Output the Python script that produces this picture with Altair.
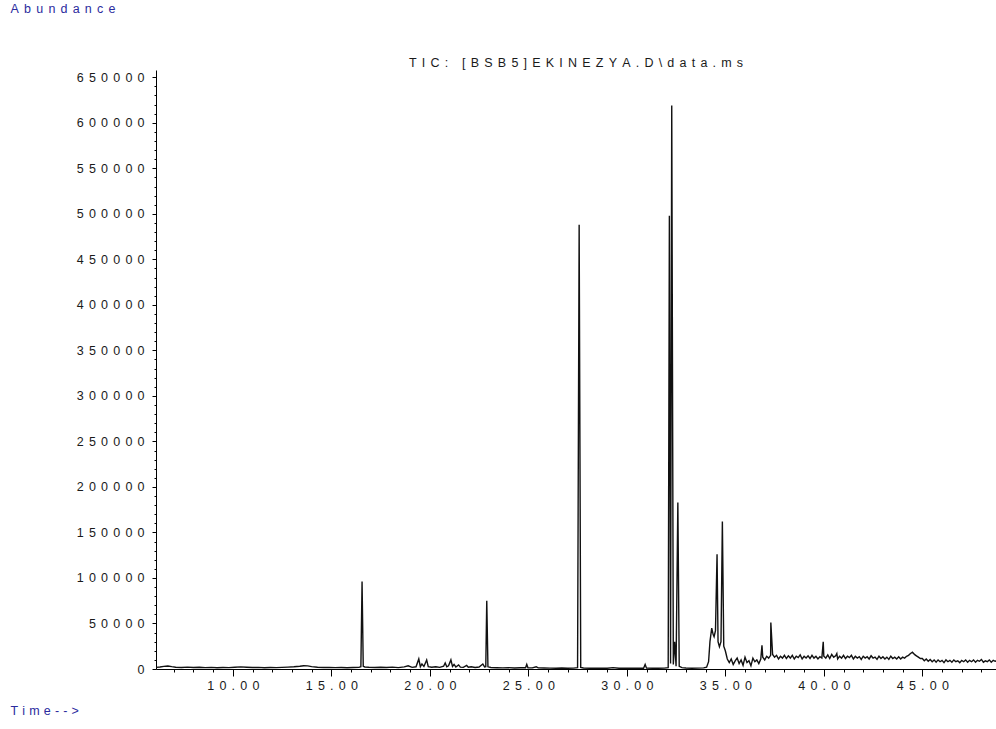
import altair as alt
import pandas as pd

# Total ion chromatogram, retention time (min) vs abundance, up to 35.1 min
rt_min = [
    6.10, 6.30, 6.50, 6.70, 6.90, 7.10, 7.40, 7.70, 8.00, 8.30, 8.60, 8.90,
    9.20, 9.50, 9.80, 10.10, 10.40, 10.70, 11.00, 11.30, 11.60, 11.90, 12.20,
    12.50, 12.80, 13.10, 13.40, 13.60, 13.80, 14.00, 14.30, 14.60, 14.90,
    15.20, 15.50, 15.80, 16.10, 16.40, 16.50, 16.56, 16.62, 16.70, 16.90,
    17.20, 17.50, 17.80, 18.10, 18.40, 18.70, 18.90, 19.10, 19.30, 19.44,
    19.52, 19.60, 19.70, 19.84, 19.92, 20.10, 20.30, 20.50, 20.70, 20.78,
    20.86, 20.95, 21.07, 21.15, 21.23, 21.32, 21.46, 21.55, 21.70, 21.87,
    21.95, 22.10, 22.30, 22.50, 22.69, 22.78, 22.84, 22.89, 22.95, 23.10,
    23.40, 23.70, 24.00, 24.30, 24.60, 24.86, 24.92, 24.98, 25.20, 25.40,
    25.50, 25.80, 26.10, 26.40, 26.70, 27.00, 27.30, 27.50, 27.58, 27.66,
    27.80, 28.10, 28.40, 28.70, 29.00, 29.30, 29.60, 29.90, 30.20, 30.50,
    30.85, 30.93, 31.00, 31.30, 31.60, 31.90, 32.10, 32.16, 32.22, 32.28,
    32.36, 32.43, 32.50, 32.59, 32.66, 32.80, 33.00, 33.30, 33.60, 33.90,
    34.05, 34.15, 34.22, 34.31, 34.38, 34.43, 34.50, 34.58, 34.63, 34.70,
    34.78, 34.85, 34.92, 35.00, 35.10,
]
abundance = [
    1800, 2200, 2900, 3300, 2600, 2000, 1700, 2100, 1600, 1900, 1500, 1800,
    1400, 1700, 1500, 1900, 2300, 2000, 1600, 1800, 1400, 1700, 1500,
    1800, 2100, 2400, 3000, 3600, 3400, 2600, 1900, 1600, 1800,
    1500, 1700, 1400, 1600, 1800, 2500, 96000, 3000, 2200, 1900,
    1700, 2000, 1600, 2100, 1500, 2300, 3500, 1800, 2400, 11000,
    2500, 5500, 2800, 10000, 2600, 2000, 2400, 1800, 3000, 6600,
    2400, 3500, 10000, 2800, 5000, 2200, 4500, 2000, 1800, 4000,
    2000, 2500, 1700, 2200, 5500, 2300, 2500, 75000, 2400, 1600,
    1400, 1200, 1500, 1100, 1300, 1400, 5000, 1300, 1200, 2500,
    1200, 1100, 1000, 900, 1100, 900, 1000, 1500, 488000, 1800,
    1100, 900, 800, 900, 800, 1500, 800, 900, 800, 900,
    900, 5000, 900, 800, 900, 1000, 1500, 498000, 6000, 619000,
    5000, 30000, 3000, 183000, 3000, 1500, 1100, 900, 1000, 1200,
    2000, 8000, 30000, 45000, 38000, 35500, 42000, 126000, 30000, 24500,
    30000, 162000, 25000, 20000, 11000,
]

# Noisy late baseline, sampled every 0.1 min from 35.2 min
tail_start = 35.2
tail_step = 0.1
tail_abund = [
    7000, 11000, 5000, 9000, 12000, 6000, 10000, 4000, 13000, 7000,
    9000, 3500, 12000, 8000, 10000, 6000, 11000, 13000, 10000, 14000,
    12000, 15000, 16000, 13000, 15000, 11000, 14000, 12000, 15000, 11500,
    14500, 12000, 15000, 11000, 14000, 12500, 15500, 11000, 14000, 12000,
    14500, 11500, 15000, 12000, 14000, 11000, 13500, 12000, 14000, 12000,
    15500, 11500, 16000, 13000, 14500, 11000, 14000, 12000, 15000, 11500,
    14000, 12500, 15000, 11000, 14000, 12000, 13500, 10500, 14000, 12000,
    13500, 11000, 14500, 12000, 13000, 10500, 14000, 11500, 13500, 11000,
    13000, 10500, 14000, 11500, 13000, 11000, 13500, 11000, 13000, 12000,
    14000, 15000, 17000, 18500, 16000, 14500, 13000, 11500, 11500, 9000,
    11000, 8500, 10500, 8000, 10000, 7500, 10000, 8000, 9500, 7000,
    10000, 8000, 9500, 7500, 10000, 8000, 9000, 7000, 9500, 8000,
    10000, 7500, 9500, 8000, 10000, 7500, 9500, 8500, 10500, 7500,
    9000, 8000, 10000, 7500, 9500, 8500, 9000,
]

# Isolated spikes on the late baseline
spike_rt = [36.86, 37.31, 39.97, 40.66]
spike_abund = [26000, 51000, 30000, 17000]

X_DOMAIN = [6.1, 48.74]
Y_DOMAIN = [0, 658000]
x_ticks = list(range(7, 49))
y_ticks = list(range(0, 650001, 10000))

title_text = "TIC: [BSB5]EKINEZYA.D\\data.ms"
y_title = "Abundance"
x_title = "Time-->"

GAP = "\u2004\u200a"  # wide letter spacing of the instrument printout
GAP_NARROW = "\u2004"
FONT = "Liberation Sans"
INK = "#1a1a1a"
BLUE = "#2b2b9e"


def spaced(s, gap=GAP):
    return gap.join(s)


tail_rt = [round(tail_start + i * tail_step, 2) for i in range(len(tail_abund))]
df = pd.concat(
    [
        pd.DataFrame({"rt": rt_min, "abundance": abundance}),
        pd.DataFrame({"rt": tail_rt, "abundance": tail_abund}),
        pd.DataFrame({"rt": spike_rt, "abundance": spike_abund}),
    ]
).sort_values("rt")

x_axis = alt.Axis(
    values=x_ticks,
    grid=False,
    domainColor="black",
    domainWidth=1,
    tickColor="black",
    tickWidth=1,
    tickSize={"condition": {"test": "datum.value % 5 === 0", "value": 7}, "value": 3},
    labelExpr=f"datum.value % 5 === 0 ? join(split(format(datum.value, '.2f'), ''), '{GAP}') : ''",
    labelFont=FONT,
    labelFontSize=12.5,
    labelColor=INK,
    labelPadding=3,
    labelOverlap=False,
    labelFlush=False,
    title=spaced(x_title, GAP_NARROW),
    titleFont=FONT,
    titleFontSize=12.5,
    titleFontWeight="normal",
    titleColor=BLUE,
    titleAngle=0,
    titleAlign="left",
    titleBaseline="middle",
    titleX=-146,
    titleY=41,
)

y_axis = alt.Axis(
    values=y_ticks,
    grid=False,
    domainColor="black",
    domainWidth=1,
    tickColor="black",
    tickWidth=1,
    tickSize={"condition": {"test": "datum.value % 50000 === 0", "value": 4}, "value": 2},
    labelExpr=f"datum.value % 50000 === 0 ? join(split(format(datum.value, 'd'), ''), '{GAP}') : ''",
    labelFont=FONT,
    labelFontSize=12.5,
    labelColor=INK,
    labelPadding=8,
    labelOverlap=False,
    labelFlush=False,
    title=spaced(y_title),
    titleFont=FONT,
    titleFontSize=12.5,
    titleFontWeight="normal",
    titleColor=BLUE,
    titleAngle=0,
    titleAlign="left",
    titleBaseline="middle",
    titleX=-146,
    titleY=-61.5,
)

trace = (
    alt.Chart(df)
    .mark_line(color="#111111", strokeWidth=1.4, clip=True)
    .encode(
        x=alt.X("rt:Q", scale=alt.Scale(domain=X_DOMAIN, nice=False, zero=False), axis=x_axis),
        y=alt.Y("abundance:Q", scale=alt.Scale(domain=Y_DOMAIN, nice=False), axis=y_axis),
    )
)

# Run header printed above the plot area
header = (
    alt.Chart(pd.DataFrame({"label": [spaced(title_text)]}))
    .mark_text(font=FONT, fontSize=12.5, color=INK, align="center", baseline="alphabetic")
    .encode(text="label:N", x=alt.value(420), y=alt.value(-3.5))
)

chart = (
    alt.layer(trace, header)
    .properties(
        width=840,
        height=599,
        background="white",
        padding={"left": 156, "top": 70, "right": 0, "bottom": 60},
        autosize=alt.AutoSizeParams(type="none"),
    )
    .configure_view(stroke="transparent", strokeWidth=0)
)

chart.save("out.html", embed_options={"renderer": "svg", "actions": False})
